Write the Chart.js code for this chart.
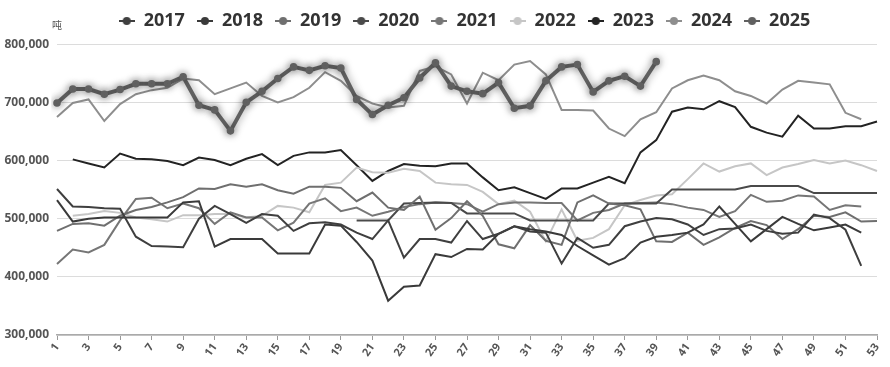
<!DOCTYPE html>
<html>
<head>
<meta charset="utf-8">
<script src="https://cdn.jsdelivr.net/npm/chart.js@4.4.1/dist/chart.umd.min.js"></script>
<style>
  html, body { margin: 0; padding: 0; background: #fff; }
  #wrap { width: 890px; height: 367px; }
</style>
</head>
<body>
<div id="wrap"><canvas id="c" width="890" height="367"></canvas></div>
<script>
// week numbers on the x axis
const weeks = ['1','2','3','4','5','6','7','8','9','10','11','12','13','14','15','16','17','18','19','20',
  '21','22','23','24','25','26','27','28','29','30','31','32','33','34','35','36','37','38','39','40',
  '41','42','43','44','45','46','47','48','49','50','51','52','53'];

const years = ['2017', '2018', '2019', '2020', '2021', '2022', '2023', '2024', '2025'];

// weekly values, tonnes
const y2017 = [551, 521, 520, 518, 517, 469, 453, 452, 451, 500, 522, 508, 493, 508, 505, 479, 492, 494, 490, 476,
  465, 497, 433, 465, 465, 459, 496, 465, 474, 487, 478, 476, 423, 467, 450, 455, 487, 495, 501, 499,
  490, 472, 482, 483, 490, 479, 474, 476, 507, 501, 481, 419, null];
const y2018 = [532, 495, 500, 502, 502, 502, 502, 502, 528, 530, 452, 465, 465, 465, 440, 440, 440, 490, 488, 460,
  428, 359, 383, 385, 439, 434, 448, 447, 474, 487, 482, 478, 472, 453, 437, 421, 432, 459, 469, 472,
  476, 490, 521, 491, 461, 482, 503, 491, 480, 485, 490, 476, null];
const y2019 = [479, 491, 492, 488, 505, 515, 520, 528, 537, 552, 551, 559, 555, 559, 549, 543, 555, 555, 553, 530,
  545, 519, 515, 538, 481, 501, 530, 505, 456, 449, 489, 462, 455, 528, 540, 526, 523, 516, 461, 460,
  476, 455, 468, 484, 496, 489, 465, 482, 505, 503, 511, 495, 496];
const y2020 = [null, null, null, null, null, null, null, null, null, null, null, null, null, null, null, null, null, null, null, 497,
  497, 497, 526, 527, 528, 527, 509, 509, 509, 509, 497, 497, 497, 497, 497, 526, 526, 526, 526, 550,
  550, 550, 550, 550, 556, 556, 556, 556, 544, 544, 544, 544, 544];
const y2021 = [422, 447, 442, 455, 497, 534, 536, 518, 526, 518, 491, 511, 502, 502, 480, 493, 526, 535, 513, 519,
  505, 512, 520, 525, 528, 527, 525, 512, 525, 528, 528, 527, 527, 497, 510, 515, 526, 527, 528, 525,
  519, 515, 503, 513, 541, 529, 531, 540, 538, 515, 523, 521, null];
const y2022 = [null, 505, 508, 513, 510, 502, 499, 495, 506, 506, 508, 508, 502, 505, 522, 519, 511, 558, 562, 588,
  580, 579, 586, 582, 562, 559, 558, 546, 525, 531, 512, 461, 516, 462, 467, 482, 523, 532, 540, 542,
  568, 595, 581, 590, 595, 575, 588, 594, 601, 595, 600, 592, 582];
const y2023 = [null, 602, 595, 588, 612, 603, 602, 599, 592, 605, 601, 592, 603, 611, 592, 608, 614, 614, 618, 592,
  565, 582, 594, 591, 590, 595, 595, 571, 549, 554, 544, 534, 552, 552, 562, 572, 561, 614, 635, 684,
  691, 688, 702, 692, 658, 648, 641, 677, 655, 655, 659, 659, 667];
const y2024 = [675, 699, 705, 668, 697, 714, 721, 725, 741, 738, 714, 724, 734, 711, 700, 709, 725, 752, 737, 711,
  698, 691, 694, 754, 762, 748, 698, 751, 738, 765, 771, 748, 687, 687, 686, 655, 642, 671, 683, 724,
  738, 746, 738, 719, 711, 698, 722, 737, 734, 731, 682, 671, null];
const y2025 = [699, 723, 723, 714, 722, 732, 732, 732, 744, 695, 687, 651, 700, 719, 741, 761, 755, 763, 759, 705,
  679, 695, 708, 742, 768, 728, 719, 715, 734, 690, 694, 737, 761, 765, 718, 737, 745, 728, 770];

const series = [y2017, y2018, y2019, y2020, y2021, y2022, y2023, y2024, y2025];
const colors = ['#3f3f3f', '#3a3a3a', '#6f6f6f', '#4a4a4a', '#767676', '#c6c6c6', '#232323', '#8e8e8e', '#606060'];

// little "-o-" marker for the legend
function legendMark(color) {
    const cv = document.createElement('canvas');
    cv.width = 16; cv.height = 10;
    const g = cv.getContext('2d');
    g.strokeStyle = color; g.lineWidth = 2;
    g.beginPath(); g.moveTo(0, 5); g.lineTo(16, 5); g.stroke();
    g.fillStyle = color;
    g.beginPath(); g.arc(8, 5, 4, 0, Math.PI * 2); g.fill();
    return cv;
}

const datasets = years.map((yr, i) => {
    const last = i === years.length - 1;
    return {
        label: yr,
        data: series[i].map(v => v === null ? null : v * 1000),
        borderColor: colors[i],
        backgroundColor: colors[i],
        borderWidth: last ? 4 : 2,
        pointRadius: last ? 1.8 : 0,
        pointHoverRadius: 0,
        tension: 0,
        fill: false,
        order: last ? -1 : 0
    };
});

const shadowPlugin = {
    id: 'shadow2025',
    beforeDatasetDraw(chart, args) {
        if (args.index !== years.length - 1) return;
        const ctx = chart.ctx;
        ctx.save();
        ctx.shadowColor = 'rgba(0,0,0,0.45)';
        ctx.shadowBlur = 8;
    },
    afterDatasetDraw(chart, args) {
        if (args.index !== years.length - 1) return;
        chart.ctx.restore();
    }
};

// nudge the legend row a bit to the right, like the original
const legendShift = {
    id: 'legendShift',
    afterLayout(chart) {
        if (!chart.legend) return;
        chart.legend.left += 26;
        chart.legend.right += 26;
    }
};

const unitPlugin = {
    id: 'unit',
    afterDraw(chart) {
        const ctx = chart.ctx;
        ctx.save();
        ctx.fillStyle = '#555';
        ctx.font = '10px "Noto Sans CJK SC"';
        ctx.textAlign = 'left';
        ctx.textBaseline = 'middle';
        ctx.fillText('吨', 52, 25);
        ctx.restore();
    }
};

new Chart(document.getElementById('c'), {
    type: 'line',
    data: { labels: weeks, datasets: datasets },
    plugins: [shadowPlugin, legendShift, unitPlugin],
    options: {
        responsive: false,
        animation: false,
        events: [],
        layout: { padding: { left: 0, right: 13, top: 0, bottom: 0 } },
        plugins: {
            legend: {
                position: 'top',
                labels: {
                    usePointStyle: true,
                    pointStyleWidth: 16,
                    boxHeight: 10,
                    padding: 12,
                    color: '#333',
                    font: { family: '"Open Sans", sans-serif', size: 18, weight: 'bold' },
                    sort: (a, b) => a.datasetIndex - b.datasetIndex,
                    generateLabels(chart) {
                        return Chart.defaults.plugins.legend.labels.generateLabels(chart).map(l => {
                            l.pointStyle = legendMark(colors[l.datasetIndex]);
                            return l;
                        });
                    }
                }
            },
            // empty spacer between legend and plot
            subtitle: {
                display: true,
                text: ' ',
                position: 'top',
                weight: 500,
                font: { size: 1 },
                padding: { top: 3, bottom: 0 }
            },
            tooltip: { enabled: false }
        },
        scales: {
            x: {
                offset: false,
                afterFit: (s) => { s.height = 32; },
                grid: {
                    drawOnChartArea: false,
                    drawTicks: true,
                    tickLength: 5,
                    tickColor: (c) => c.index % 2 === 0 ? '#999' : 'rgba(0,0,0,0)'
                },
                border: { display: true, color: '#aaa', width: 1.5 },
                ticks: {
                    autoSkip: false,
                    maxRotation: 55,
                    minRotation: 55,
                    padding: 1,
                    color: '#555',
                    font: { family: '"Open Sans", sans-serif', size: 11, weight: 'bold' },
                    callback: (v, i) => i % 2 === 0 ? weeks[i] : ''
                }
            },
            y: {
                min: 300000,
                max: 800000,
                afterFit: (s) => { s.width = 57; },
                grid: { color: '#dcdcdc', drawTicks: false, lineWidth: 1 },
                border: { display: false },
                ticks: {
                    stepSize: 100000,
                    padding: 8,
                    color: '#555',
                    font: { family: '"Open Sans", sans-serif', size: 12, weight: 'bold' },
                    callback: v => v.toLocaleString('en-US')
                }
            }
        }
    }
});
</script>
</body>
</html>
